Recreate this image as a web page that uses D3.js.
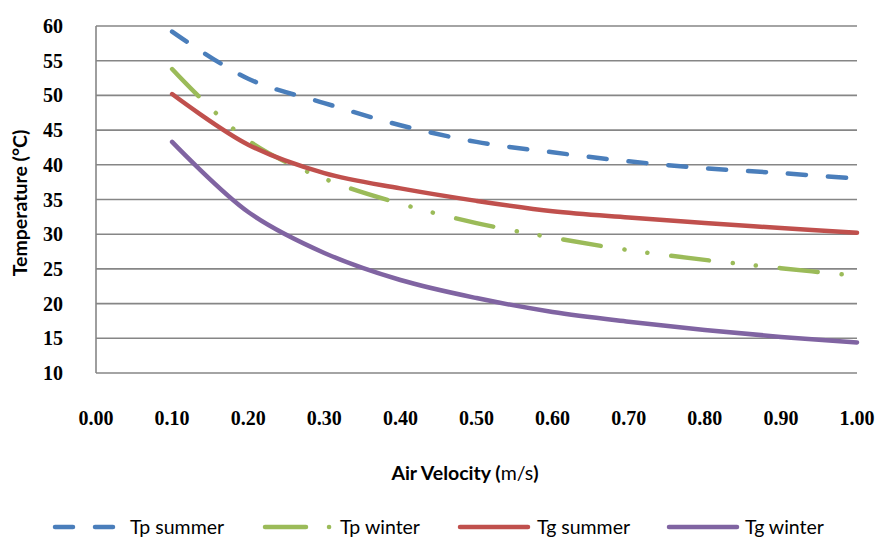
<!DOCTYPE html>
<html>
<head>
<meta charset="utf-8" />
<title>Air velocity vs temperature</title>
<script src="https://d3js.org/d3.v7.min.js"></script>
<style>
  body { margin: 0; background: #fff; }
  svg { display: block; }
</style>
</head>
<body>
<svg id="chart" width="878" height="537"></svg>
<script>
// data
var velocity = [0.1, 0.2, 0.3, 0.4, 0.5, 0.6, 0.7, 0.8, 0.9, 1.0];
var tpSummer = [59.2, 52.4, 48.9, 45.7, 43.3, 41.8, 40.5, 39.5, 38.8, 38.0];
var tpWinter = [53.8, 43.5, 38.0, 34.4, 31.6, 29.5, 27.7, 26.3, 25.1, 24.0];
var tgSummer = [50.2, 42.9, 38.8, 36.6, 34.8, 33.3, 32.4, 31.6, 30.9, 30.2];
var tgWinter = [43.3, 33.2, 27.3, 23.4, 20.8, 18.8, 17.4, 16.2, 15.2, 14.4];
var xTicks = [0, 0.1, 0.2, 0.3, 0.4, 0.5, 0.6, 0.7, 0.8, 0.9, 1.0];
var yTicks = [10, 15, 20, 25, 30, 35, 40, 45, 50, 55, 60];

var series = [
  { name: "Tp summer", values: tpSummer, color: "#4a7ebb", dash: "18,22" },
  { name: "Tp winter", values: tpWinter, color: "#9bbb59", dash: "38,24,0.1,23,0.1,24" },
  { name: "Tg summer", values: tgSummer, color: "#c0504d", dash: null },
  { name: "Tg winter", values: tgWinter, color: "#8064a2", dash: null }
];

var svg = d3.select("#chart");
var x = d3.scaleLinear().domain([0, 1]).range([96, 857]);
var y = d3.scaleLinear().domain([10, 60]).range([373, 26]);
var grey = "#868686";

// horizontal gridlines
svg.append("g").selectAll("line")
  .data(yTicks)
  .enter().append("line")
  .attr("x1", x(0)).attr("x2", x(1))
  .attr("y1", function(d){ return y(d); })
  .attr("y2", function(d){ return y(d); })
  .attr("stroke", grey).attr("stroke-width", 1.6);

// left axis line
svg.append("line")
  .attr("x1", x(0)).attr("x2", x(0))
  .attr("y1", y(60)).attr("y2", y(10))
  .attr("stroke", grey).attr("stroke-width", 1.6);

// y tick labels
svg.append("g").selectAll("text")
  .data(yTicks)
  .enter().append("text")
  .attr("x", 63)
  .attr("y", function(d){ return y(d); })
  .attr("dy", "0.35em")
  .attr("text-anchor", "end")
  .style("font", "bold 20px 'Liberation Serif', 'Times New Roman', serif")
  .text(function(d){ return d; });

// x tick labels (sit well below the plot)
svg.append("g").selectAll("text")
  .data(xTicks)
  .enter().append("text")
  .attr("x", function(d){ return x(d); })
  .attr("y", 418)
  .attr("dy", "0.35em")
  .attr("text-anchor", "middle")
  .style("font", "bold 20px 'Liberation Serif', 'Times New Roman', serif")
  .text(function(d){ return d3.format(".2f")(d); });

// axis titles
svg.append("text")
  .attr("transform", "translate(27,203) rotate(-90)")
  .attr("text-anchor", "middle")
  .style("font", "bold 19.5px Lato, 'Open Sans', sans-serif")
  .text("Temperature (°C)");

var xt = svg.append("text")
  .attr("x", 465).attr("y", 480)
  .attr("text-anchor", "middle")
  .style("font", "19.5px Lato, 'Open Sans', sans-serif");
xt.append("tspan").style("font-weight", "bold").text("Air Velocity (");
xt.append("tspan").text("m/s");
xt.append("tspan").style("font-weight", "bold").text(")");

// lines
var line = d3.line()
  .x(function(d){ return x(d[0]); })
  .y(function(d){ return y(d[1]); })
  .curve(d3.curveCatmullRom.alpha(0.5));

svg.append("g").selectAll("path")
  .data(series)
  .enter().append("path")
  .attr("d", function(s){ return line(d3.zip(velocity, s.values)); })
  .attr("fill", "none")
  .attr("stroke", function(s){ return s.color; })
  .attr("stroke-width", 4.5)
  .attr("stroke-linecap", "round")
  .attr("stroke-dasharray", function(s){ return s.dash; });

// legend
var legendX = [53, 263, 458, 667];
var legend = svg.append("g").selectAll("g")
  .data(series)
  .enter().append("g")
  .attr("transform", function(s, i){ return "translate(" + legendX[i] + ",527)"; });

legend.append("path")
  .attr("d", function(s, i){
    var w = i === 0 ? 62 : (i === 1 ? 68 : 70);
    return "M2,0H" + w;
  })
  .attr("fill", "none")
  .attr("stroke", function(s){ return s.color; })
  .attr("stroke-width", 4.5)
  .attr("stroke-linecap", "round")
  .attr("stroke-dasharray", function(s, i){
    if (i === 0) return "18,22";
    if (i === 1) return "41,23,0.1,100";
    return null;
  });

legend.append("text")
  .attr("x", function(s, i){ return [77, 77, 79, 78][i]; })
  .attr("dy", "0.35em")
  .style("font", "19.5px Lato, 'Open Sans', sans-serif")
  .text(function(s){ return s.name; });
</script>
</body>
</html>
